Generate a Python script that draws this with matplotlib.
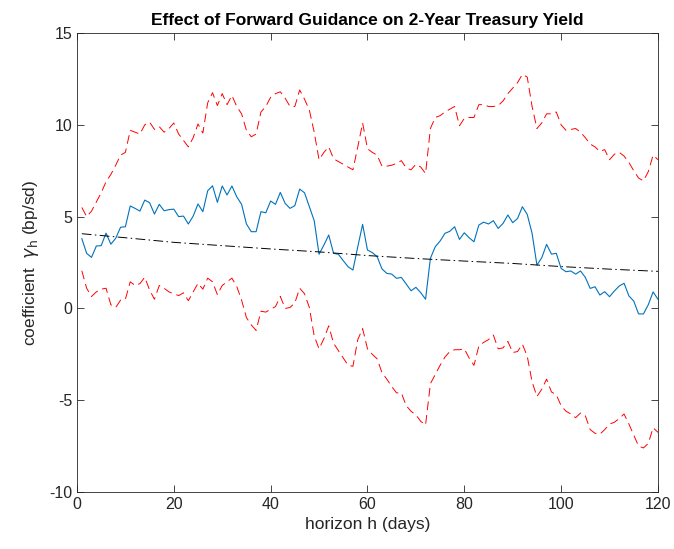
"""Forward guidance effect on the 2-year Treasury yield, by horizon."""

import matplotlib
matplotlib.use("Agg")
import matplotlib.pyplot as plt
import numpy as np

plt.rcParams["font.family"] = ["Liberation Sans", "DejaVu Sans"]
plt.rcParams["mathtext.fontset"] = "dejavusans"
plt.rcParams["axes.unicode_minus"] = False

# horizon in days
horizon = np.arange(1, 121)

# point estimate gamma_h (bp per sd)
coef = [
    3.80, 3.00, 2.78, 3.40, 3.42, 4.10, 3.50, 3.82, 4.42, 4.45,
    5.58, 5.45, 5.30, 5.90, 5.76, 5.14, 5.67, 5.32, 5.38, 5.41,
    5.00, 5.03, 4.60, 5.03, 5.69, 5.27, 6.41, 6.68, 5.78, 6.67,
    6.18, 6.67, 6.08, 5.67, 4.60, 4.18, 4.18, 5.27, 5.21, 5.85,
    5.67, 6.32, 5.72, 5.45, 5.60, 6.50, 6.30, 5.54, 4.78, 2.95,
    3.45, 4.00, 3.00, 2.95, 2.60, 2.27, 2.09, 3.36, 4.58, 3.18,
    3.04, 2.82, 2.15, 1.91, 1.87, 1.64, 1.69, 1.33, 0.96, 1.15,
    0.86, 0.50, 2.73, 3.36, 3.67, 4.09, 4.20, 4.45, 3.76, 4.12,
    3.85, 3.63, 4.54, 4.70, 4.60, 4.78, 4.36, 4.63, 5.09, 4.67,
    4.90, 5.54, 5.12, 4.09, 2.36, 2.76, 3.49, 2.96, 3.00, 2.18,
    2.00, 2.04, 1.87, 2.04, 1.69, 1.09, 1.18, 0.73, 0.91, 0.64,
    0.95, 1.22, 1.37, 0.68, 0.40, -0.30, -0.30, 0.20, 0.90, 0.50,
]

# upper confidence band
upper = [
    5.50, 5.00, 5.30, 5.80, 6.30, 6.90, 7.30, 7.80, 8.35, 8.50,
    9.70, 9.60, 9.50, 10.00, 10.15, 9.75, 9.90, 9.60, 9.80, 10.10,
    9.50, 9.15, 8.80, 9.30, 10.05, 9.55, 11.20, 11.75, 11.05, 11.70,
    11.10, 11.60, 11.00, 10.60, 9.70, 9.35, 9.50, 10.70, 11.00, 11.50,
    11.70, 11.80, 11.45, 11.00, 11.00, 11.90, 11.40, 10.80, 9.60, 8.10,
    8.50, 8.80, 8.15, 8.00, 7.85, 7.70, 7.55, 8.80, 10.10, 8.70,
    8.50, 8.35, 7.75, 7.75, 7.80, 7.90, 8.05, 7.65, 7.55, 7.85,
    7.70, 7.35, 9.80, 10.40, 10.50, 10.70, 10.85, 11.00, 9.95, 10.35,
    10.40, 10.40, 11.10, 11.10, 11.00, 11.00, 11.05, 11.30, 11.70, 12.00,
    12.30, 12.75, 12.60, 11.00, 9.80, 10.10, 10.60, 10.60, 10.70, 10.00,
    9.70, 9.75, 9.80, 9.60, 9.30, 8.95, 8.80, 8.55, 8.65, 8.10,
    8.40, 8.50, 8.30, 7.95, 7.50, 7.10, 6.95, 7.45, 8.35, 8.10,
]

# lower confidence band
lower = [
    2.05, 1.10, 0.65, 0.90, 1.05, 1.10, 0.20, 0.05, 0.45, 0.50,
    1.45, 1.25, 1.35, 1.70, 1.00, 0.50, 1.25, 1.10, 0.90, 0.80,
    0.70, 0.85, 0.42, 0.90, 1.37, 1.05, 1.65, 1.45, 0.75, 1.25,
    1.45, 1.65, 1.20, 0.45, -0.50, -0.90, -1.20, -0.15, -0.20, -0.05,
    0.10, 0.65, 0.00, 0.05, 0.30, 1.10, 0.80, 0.05, -1.50, -2.20,
    -1.65, -0.95, -1.90, -2.30, -2.70, -3.10, -3.15, -1.70, -1.10, -2.20,
    -2.50, -2.75, -3.50, -3.85, -4.25, -4.60, -4.60, -5.30, -5.60, -5.80,
    -6.15, -6.35, -4.10, -3.60, -3.10, -2.65, -2.35, -2.25, -2.25, -2.20,
    -2.70, -3.10, -2.05, -1.85, -1.70, -1.45, -2.20, -2.15, -1.80, -2.40,
    -2.35, -1.95, -2.60, -4.00, -4.80, -4.40, -3.85, -4.55, -4.70, -5.30,
    -5.60, -5.75, -5.95, -5.70, -5.85, -6.60, -6.80, -6.85, -6.60, -6.30,
    -6.20, -6.00, -5.75, -6.30, -6.90, -7.50, -7.60, -7.35, -6.50, -6.75,
]

# smooth trend line, read at every 10 days
trend_h = [1, 10, 20, 30, 40, 50, 60, 70, 80, 90, 100, 110, 120]
trend = [4.07, 3.85, 3.60, 3.42, 3.24, 3.08, 2.88, 2.72, 2.58, 2.45, 2.28, 2.14, 2.02]

AX_COLOR = "#262626"

fig = plt.figure(figsize=(6.74, 5.49), dpi=100)
ax = fig.add_axes([0.1142, 0.1038, 0.862, 0.836])

ax.plot(horizon, upper, color="#ff0000", linestyle=(0, (9, 5)), linewidth=0.7)
ax.plot(horizon, lower, color="#ff0000", linestyle=(0, (9, 5)), linewidth=0.7)
ax.plot(horizon, coef, color="#0072bd", linewidth=0.8)
ax.plot(trend_h, trend, color="black", linestyle=(0, (10, 3.5, 1.5, 3.5)), linewidth=0.7)

ax.set_xlim(0, 120)
ax.set_ylim(-10, 15)
ax.set_xticks(np.arange(0, 121, 20))
ax.set_yticks(np.arange(-10, 16, 5))

ax.tick_params(direction="in", top=True, right=True, length=5, width=0.6,
               colors=AX_COLOR, labelsize=11.5, labelcolor=AX_COLOR)
for spine in ax.spines.values():
    spine.set_color(AX_COLOR)
    spine.set_linewidth(0.6)

ax.set_xlabel("horizon h (days)", fontsize=12.5, color=AX_COLOR)
ax.set_ylabel(r"coefficient  $\gamma_{\mathrm{h}}$ (bp/sd)", fontsize=12.5,
              color=AX_COLOR, labelpad=6)
ax.set_title("Effect of Forward Guidance on 2-Year Treasury Yield",
             fontsize=12.5, fontweight="bold", color="black", pad=6)

fig.savefig("out.png", dpi=100)
